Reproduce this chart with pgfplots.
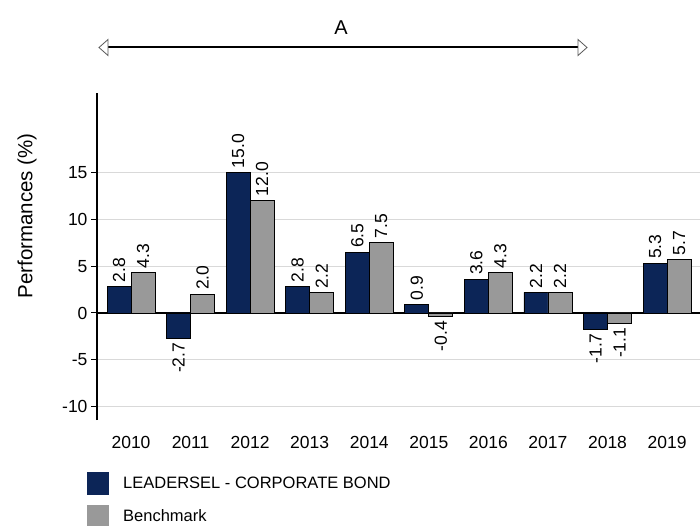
\documentclass[border=0pt]{standalone}
\usepackage{pgfplots}
\pgfplotsset{compat=1.18}
\usepackage{pgfplotstable}
\usepackage{fontspec}
\setmainfont{Liberation Sans}
\usetikzlibrary{arrows.meta}
\definecolor{navy}{RGB}{12,37,87}
\definecolor{bgray}{RGB}{153,153,153}
\definecolor{gridc}{RGB}{217,217,217}

\pgfplotstableread{
x a b
0 2.8 4.3
1 -2.7 2.0
2 15.0 12.0
3 2.8 2.2
4 6.5 7.5
5 0.9 -0.4
6 3.6 4.3
7 2.2 2.2
8 -1.7 -1.1
9 5.3 5.7
}\perf

\begin{document}
\begin{tikzpicture}[x=1pt,y=1pt]
\path[use as bounding box] (0,0) rectangle (700,525);
\begin{axis}[
  at={(97pt,105pt)}, anchor=south west,
  scale only axis, width=603pt, height=327pt,
  xmin=-0.571, xmax=9.553, ymin=-11.43, ymax=23.5,
  axis lines*=left,
  x axis line style={draw=none},
  y axis line style={black, line width=1.2pt},
  ybar=0pt, bar width=24pt,
  xtick={0,...,9},
  xticklabels={2010,2011,2012,2013,2014,2015,2016,2017,2018,2019},
  xtick style={draw=none},
  xticklabel style={yshift=-7pt},
  ytick={-10,-5,0,5,10,15},
  ytick style={black, line width=1pt},
  tick align=outside, major tick length=6pt,
  ymajorgrids, grid style={gridc, line width=1pt},
  extra y ticks={0}, extra y tick labels={},
  extra y tick style={grid style={black, line width=1.5pt}, major tick length=0pt},
  tick label style={font=\fontsize{17.5}{21}\selectfont},
  /pgf/number format/assume math mode=true,
  visualization depends on=rawy\as\rawy,
  nodes near coords={\pgfmathprintnumber[fixed,fixed zerofill,precision=1,assume math mode=true]{\pgfplotspointmeta}},
  every node near coord/.append style={rotate=90, anchor={\ifdim\rawy pt<0pt east\else west\fi}, font=\fontsize{17.5}{21}\selectfont, inner sep=4pt, black},
  legend style={at={(axis description cs:-0.0166,-0.159)}, anchor=north west, draw=none, fill=none,
    font=\fontsize{16.5}{20}\selectfont, row sep=10pt, inner sep=0pt, nodes={inner sep=0pt}, column sep=14pt,
    cells={anchor=west}},
  legend image code/.code={\fill[#1,draw=none] (0pt,-11.5pt) rectangle (22pt,11.5pt);},
]
\addplot[fill=navy, draw=black, line width=0.8pt] table[x=x,y=a]{\perf};
\addlegendentry{LEADERSEL - CORPORATE BOND}
\addplot[fill=bgray, draw=black, line width=0.8pt] table[x=x,y=b]{\perf};
\addlegendentry{Benchmark}
\end{axis}
\node[rotate=90, font=\fontsize{20.5}{24}\selectfont] at (27,309) {Performances (\%)};
\draw[line width=2pt] (106,477.5) -- (580,477.5);
\draw[gray!70!black, line width=0.8pt, fill=white] (99,477.5) -- (108,485.5) -- (108,469.5) -- cycle;
\draw[gray!70!black, line width=0.8pt, fill=white] (587,477.5) -- (578,485.5) -- (578,469.5) -- cycle;
\node[font=\fontsize{20}{24}\selectfont] at (341,497) {A};
\end{tikzpicture}
\end{document}
